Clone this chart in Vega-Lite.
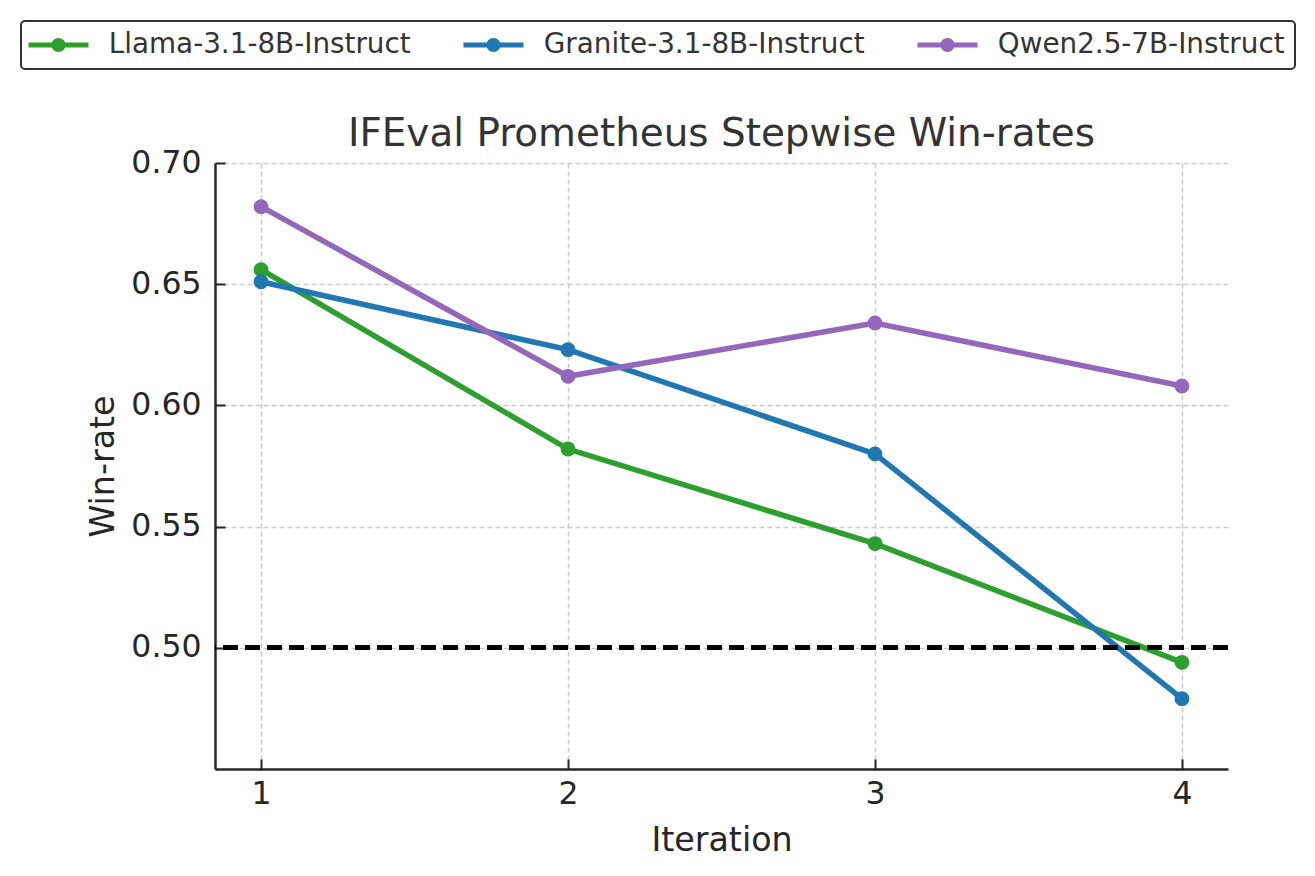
{
  "$schema": "https://vega.github.io/schema/vega-lite/v6.json",
  "width": 1013,
  "height": 606,
  "autosize": {"type": "none"},
  "padding": {"left": 215, "top": 163, "right": 87, "bottom": 107},
  "background": "white",
  "config": {
    "view": {"stroke": null},
    "font": "DejaVu Sans"
  },
  "title": {
    "text": "IFEval Prometheus Stepwise Win-rates",
    "fontSize": 38.9,
    "fontWeight": "normal",
    "color": "#333333",
    "font": "DejaVu Sans",
    "frame": "group",
    "anchor": "middle",
    "baseline": "alphabetic",
    "offset": 17,
    "dy": 182
  },
  "data": {
    "values": [
      {"iteration": 1, "winrate": 0.656, "model": "Llama-3.1-8B-Instruct"},
      {"iteration": 2, "winrate": 0.582, "model": "Llama-3.1-8B-Instruct"},
      {"iteration": 3, "winrate": 0.543, "model": "Llama-3.1-8B-Instruct"},
      {"iteration": 4, "winrate": 0.494, "model": "Llama-3.1-8B-Instruct"},
      {"iteration": 1, "winrate": 0.651, "model": "Granite-3.1-8B-Instruct"},
      {"iteration": 2, "winrate": 0.623, "model": "Granite-3.1-8B-Instruct"},
      {"iteration": 3, "winrate": 0.580, "model": "Granite-3.1-8B-Instruct"},
      {"iteration": 4, "winrate": 0.479, "model": "Granite-3.1-8B-Instruct"},
      {"iteration": 1, "winrate": 0.682, "model": "Qwen2.5-7B-Instruct"},
      {"iteration": 2, "winrate": 0.612, "model": "Qwen2.5-7B-Instruct"},
      {"iteration": 3, "winrate": 0.634, "model": "Qwen2.5-7B-Instruct"},
      {"iteration": 4, "winrate": 0.608, "model": "Qwen2.5-7B-Instruct"}
    ]
  },
  "layer": [
    {
      "mark": {"type": "line", "strokeWidth": 5.5, "point": {"filled": true, "size": 220, "opacity": 1}},
      "encoding": {
        "x": {
          "field": "iteration",
          "type": "quantitative",
          "scale": {"domain": [0.85, 4.15], "nice": false, "zero": false},
          "axis": {
            "values": [1, 2, 3, 4],
            "format": "d",
            "title": "Iteration",
            "titleFontSize": 33.3,
            "titleFontWeight": "normal",
            "titleColor": "#262626",
            "titleFont": "DejaVu Sans",
            "titleX": 506.5,
            "titleY": 81,
            "titleBaseline": "alphabetic",
            "labelFontSize": 31.5,
            "labelColor": "#262626",
            "labelFont": "DejaVu Sans",
            "labelPadding": 19,
            "tickSize": -10,
            "tickWidth": 2,
            "tickColor": "#262626",
            "domainColor": "#262626",
            "domainWidth": 2.5,
            "grid": true,
            "gridColor": "#cccccc",
            "gridDash": [5, 3],
            "gridWidth": 1.5
          }
        },
        "y": {
          "field": "winrate",
          "type": "quantitative",
          "scale": {"domain": [0.45, 0.70], "nice": false, "zero": false},
          "axis": {
            "values": [0.5, 0.55, 0.6, 0.65, 0.7],
            "format": ".2f",
            "title": "Win-rate",
            "titleFontSize": 33.3,
            "titleFontWeight": "normal",
            "titleColor": "#262626",
            "titleFont": "DejaVu Sans",
            "titleX": -102,
            "titleY": 303,
            "titleAngle": -90,
            "titleBaseline": "alphabetic",
            "labelFontSize": 31.5,
            "labelColor": "#262626",
            "labelFont": "DejaVu Sans",
            "labelPadding": 24,
            "tickSize": -10,
            "tickWidth": 2,
            "tickColor": "#262626",
            "domainColor": "#262626",
            "domainWidth": 2.5,
            "grid": true,
            "gridColor": "#cccccc",
            "gridDash": [5, 3],
            "gridWidth": 1.5
          }
        },
        "color": {
          "field": "model",
          "type": "nominal",
          "scale": {
            "domain": ["Llama-3.1-8B-Instruct", "Granite-3.1-8B-Instruct", "Qwen2.5-7B-Instruct"],
            "range": ["#2ca02c", "#1f77b4", "#9467bd"]
          },
          "legend": {
            "title": null,
            "orient": "none",
            "legendX": -194,
            "legendY": -142,
            "direction": "horizontal",
            "columns": 3,
            "columnPadding": 52,
            "symbolType": "M-2.343,-0.357H6.228V0.357H-2.343Z M2.943,0A1,1 0 1,1 0.943,0A1,1 0 1,1 2.943,0Z",
            "symbolSize": 196,
            "symbolStrokeWidth": 0,
            "labelFontSize": 27.8,
            "labelFont": "DejaVu Sans",
            "labelColor": "#333333",
            "labelOffset": 50,
            "labelLimit": 0,
            "padding": 10,
            "strokeColor": "#333333",
            "cornerRadius": 4,
            "fillColor": "white",
            "encode": {
              "legend": {
                "update": {"strokeWidth": {"value": 2}}
              },
              "symbols": {
                "update": {
                  "fill": {"scale": "color", "field": "value"},
                  "opacity": {"value": 1}
                }
              }
            }
          }
        }
      }
    },
    {
      "mark": {"type": "rule", "color": "black", "strokeWidth": 4, "strokeDash": [15, 7]},
      "encoding": {"y": {"datum": 0.5}}
    }
  ]
}
